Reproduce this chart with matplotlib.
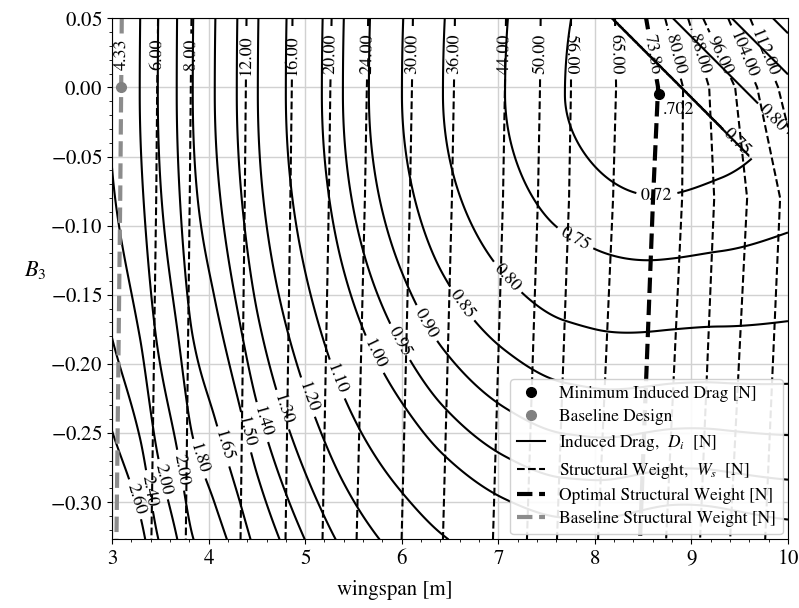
import numpy as np
import matplotlib
matplotlib.use('Agg')
import matplotlib.pyplot as plt
from matplotlib.lines import Line2D

plt.rcParams['font.family'] = 'serif'
plt.rcParams['font.serif'] = ['STIXGeneral', 'Liberation Serif', 'DejaVu Serif']
plt.rcParams['mathtext.fontset'] = 'stix'

# ---- values ----
wingspan_lim = (3.0, 10.0)
b3_lim = (-0.327, 0.05)

# induced drag contour levels and their printed labels
drag_levels = [0.72, 0.75, 0.80, 0.85, 0.90, 0.95, 1.00, 1.10, 1.20, 1.30,
               1.40, 1.50, 1.65, 1.80, 2.00, 2.20, 2.40, 2.60]
drag_text = ['0.72', '0.75', '0.80', '0.85', '0.90', '0.95', '1.00', '1.10', '1.20', '1.30',
             '1.40', '1.50', '1.65', '1.80', '2.00', '2.00', '2.40', '2.60']

# drag along the row of minimum drag (B3 = min_b3)
drag_row_b = [3.0, 3.287, 3.474, 3.670, 3.836, 4.064, 4.292, 4.510, 4.800, 5.173,
              5.391, 5.660, 6.002, 6.427, 7.07, 7.69, 8.66, 9.3, 10.0]
drag_row_val = [2.18, 2.00, 1.80, 1.65, 1.50, 1.40, 1.30, 1.20, 1.10, 1.00,
                0.95, 0.90, 0.85, 0.80, 0.75, 0.72, 0.702, 0.708, 0.7205]
curv_b = [3.0, 5.0, 5.7, 6.3, 7.1, 8.0, 8.8, 10.0]
curv_val = [3.25, 3.28, 3.45, 3.65, 3.9, 4.3, 4.8, 4.1]
upper_side_factor = 0.2

# steep drag band in the upper right corner, ending at a corner
ridge_slope = 14.3
ridge_u = [8.893, 9.524, 10.135, 10.56, 11.2]
ridge_val = [0.7505, 0.80, 0.85, 0.90, 0.97]
ridge_corner_b3 = -0.049

min_b, min_b3, min_drag = 8.66, -0.005, 0.702
base_b, base_b3 = 3.097, 0.0

# structural weight contours: wingspan where each level crosses the rows below
weight_levels = [4.33, 6.0, 8.0, 12.0, 16.0, 20.0, 24.0, 30.0, 36.0, 44.0,
                 50.0, 56.0, 65.0, 73.86, 80.0, 88.0, 96.0, 104.0, 112.0]
weight_rows = [0.05, 0.0, -0.08, -0.327]
weight_pos = [
    [3.101, 3.095, 3.085, 3.046],
    [3.477, 3.468, 3.458, 3.408],
    [3.823, 3.816, 3.805, 3.764],
    [4.393, 4.386, 4.375, 4.331],
    [4.869, 4.862, 4.847, 4.797],
    [5.274, 5.261, 5.246, 5.180],
    [5.653, 5.639, 5.619, 5.533],
    [6.116, 6.106, 6.085, 5.999],
    [6.551, 6.541, 6.520, 6.427],
    [7.080, 7.069, 7.049, 6.945],
    [7.439, 7.432, 7.411, 7.297],
    [7.753, 7.753, 7.733, 7.608],
    [8.209, 8.220, 8.189, 8.033],
    [8.531, 8.655, 8.603, 8.468],
    [8.728, 8.914, 8.904, 8.738],
    [8.966, 9.184, 9.236, 9.090],
    [9.121, 9.453, 9.577, 9.401],
    [9.381, 9.681, 9.919, 9.764],
    [9.608, 9.898, 10.18, 10.04],
]
baseline_weight = 4.33
optimal_weight = 73.86

# label anchor points (data coords)
drag_label_pos = {
    2.60: [(3.235, -0.298)], 2.40: [(3.36, -0.292)], 2.20: [(3.494, -0.284)],
    2.00: [(3.70, -0.277)], 1.80: [(3.93, -0.268)], 1.65: [(4.137, -0.260)],
    1.50: [(4.354, -0.250)], 1.40: [(4.56, -0.242)], 1.30: [(4.77, -0.233)],
    1.20: [(5.03, -0.224)], 1.10: [(5.33, -0.211)], 1.00: [(5.72, -0.193)],
    0.95: [(5.985, -0.184)], 0.90: [(6.27, -0.170)], 0.85: [(6.634, -0.156)],
    0.80: [(7.10, -0.137), (9.815, -0.024)], 0.75: [(7.83, -0.105), (9.535, -0.036)],
    0.72: [(8.64, -0.071)],
}
weight_label_x = [3.101, 3.477, 3.823, 4.393, 4.869, 5.274, 5.653, 6.116, 6.551, 7.080,
                  7.439, 7.761, 8.230, 8.593, 8.831, 9.069, 9.318, 9.556, 9.733]
weight_label_y = 0.024


def pchip(xk, yk, x):
    xk = np.asarray(xk, float)
    yk = np.asarray(yk, float)
    h = np.diff(xk)
    d = np.diff(yk) / h
    m = np.zeros_like(yk)
    m[0], m[-1] = d[0], d[-1]
    for i in range(1, len(xk) - 1):
        if d[i - 1] * d[i] > 0:
            w1 = 2 * h[i] + h[i - 1]
            w2 = h[i] + 2 * h[i - 1]
            m[i] = (w1 + w2) / (w1 / d[i - 1] + w2 / d[i])
    i = np.clip(np.searchsorted(xk, x) - 1, 0, len(h) - 1)
    t = (x - xk[i]) / h[i]
    return ((2 * t**3 - 3 * t**2 + 1) * yk[i] + (t**3 - 2 * t**2 + t) * h[i] * m[i]
            + (-2 * t**3 + 3 * t**2) * yk[i + 1] + (t**3 - t**2) * h[i] * m[i + 1])


def tick_fmt(v, pos):
    if abs(v) < 1e-9:
        v = 0.0
    return f'${v:.2f}$'


# ---- fields on a grid ----
b = np.linspace(*wingspan_lim, 1401)
b3 = np.linspace(*b3_lim, 755)
B, B3 = np.meshgrid(b, b3)

d0 = pchip(drag_row_b, drag_row_val, b)[None, :]
curv = pchip(curv_b, curv_val, b)[None, :]
dev = B3 - min_b3
drag = d0 * (1 + curv * np.where(dev > 0, upper_side_factor, 1.0) * dev**2)
u = B + ridge_slope * B3
beyond = u >= ridge_u[0]
in_ridge = beyond & (B3 >= ridge_corner_b3)
drag = np.where(in_ridge, np.maximum(drag, np.interp(u, ridge_u, ridge_val)), drag)
# no contour across the short gap right of the corner
gap = beyond & (B3 < ridge_corner_b3) & (B3 > ridge_corner_b3 - 0.012)
drag = np.ma.masked_where(gap, drag)

pos = np.array(weight_pos)
rows_asc = np.array(weight_rows)[::-1]
weight = np.empty_like(B)
for j, y in enumerate(b3):
    p = [np.interp(y, rows_asc, pos[k, ::-1]) for k in range(len(weight_levels))]
    weight[j] = np.interp(b, [2.5] + p + [11.5], [2.0] + weight_levels + [150.0])

# ---- plot ----
fig = plt.figure(figsize=(7.99, 6.08), dpi=100)
ax = fig.add_axes([0.1402, 0.1127, 0.8460, 0.8572])
ax.set_axisbelow(True)
ax.grid(True, which='major', color='0.82', lw=1.0)

# one contour set per level so each label lands on its own line
for lev, txt in zip(drag_levels, drag_text):
    cs = ax.contour(B, B3, drag, levels=[lev], colors='k', linewidths=1.5,
                    linestyles='solid')
    cs.clabel(fmt={lev: txt}, fontsize=13, manual=drag_label_pos[lev])

for lev, x in zip(weight_levels, weight_label_x):
    if lev == optimal_weight:
        col, lw = 'k', 3
    elif lev == baseline_weight:
        col, lw = '0.55', 3
    else:
        col, lw = 'k', 1.5
    cs = ax.contour(B, B3, weight, levels=[lev], colors=col, linewidths=lw,
                    linestyles='dashed')
    cs.clabel(fmt='%.2f', fontsize=13, colors='k', manual=[(x, weight_label_y)])

ax.plot(min_b, min_b3, 'o', color='k', ms=7, zorder=6)
ax.plot(base_b, base_b3, 'o', color='gray', ms=7, zorder=6)
ax.text(min_b + 0.04, min_b3 - 0.0115, f'{min_drag:.3f}'.lstrip('0'), fontsize=13,
        ha='left', va='center')

ax.set_xlim(*wingspan_lim)
ax.set_ylim(*b3_lim)
ax.set_xticks(np.arange(3, 11, 1))
ax.set_yticks(np.round(np.arange(-0.30, 0.051, 0.05), 2))
ax.yaxis.set_major_formatter(plt.FuncFormatter(tick_fmt))
ax.xaxis.set_major_formatter(plt.FuncFormatter(lambda v, p: f'${v:.0f}$'))
ax.minorticks_on()
ax.tick_params(labelsize=15)
ax.set_ylabel('$B_3$', fontsize=16, rotation=0, va='center')
ax.yaxis.set_label_coords(-0.114, 0.517)
fig.text(395 / 799, 1 - 590 / 608, 'wingspan [m]', fontsize=15, ha='center', va='center')

handles = [
    Line2D([], [], marker='o', ls='none', color='k', ms=7, label='Minimum Induced Drag [N]'),
    Line2D([], [], marker='o', ls='none', color='gray', ms=7, label='Baseline Design'),
    Line2D([], [], color='k', lw=1.5, label='Induced Drag,  $D_i$  [N]'),
    Line2D([], [], color='k', lw=1.5, ls='--', label='Structural Weight,  $W_s$  [N]'),
    Line2D([], [], color='k', lw=3, ls='--', label='Optimal Structural Weight [N]'),
    Line2D([], [], color='0.55', lw=3, ls='--', label='Baseline Structural Weight [N]'),
]
ax.legend(handles=handles, loc='lower right', fontsize=12.5, framealpha=0.9,
          labelspacing=0.4, handlelength=1.6, borderaxespad=0.3)

fig.savefig('out.png', dpi=100)
